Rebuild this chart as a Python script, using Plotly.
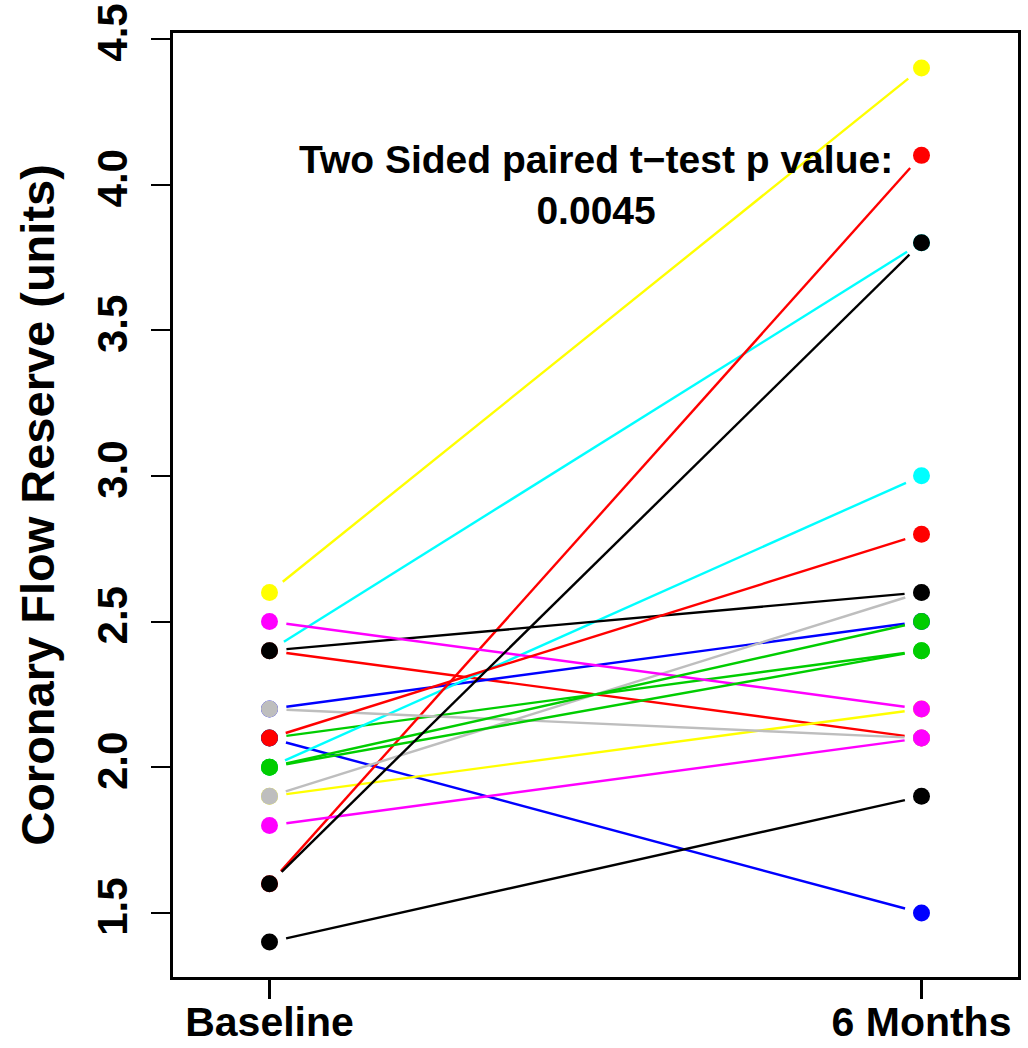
import plotly.graph_objects as go

# ---- data (one row per subject, in drawing order) ----
baseline   = [2.4, 2.4, 2.2, 2.1, 2.1, 2.0, 1.9, 1.6, 2.6, 1.9, 2.4, 2.5, 2.2, 1.8, 2.1, 2.0, 2.0, 1.6, 1.4]
six_months = [3.8, 2.1, 2.5, 2.4, 1.5, 3.0, 2.2, 4.1, 4.4, 2.6, 2.6, 2.2, 2.1, 2.1, 2.8, 2.5, 2.4, 3.8, 1.9]
colors = ["#00FFFF", "#FF0000", "#0000FF", "#00CD00", "#0000FF", "#00FFFF", "#FFFF00", "#FF0000",
          "#FFFF00", "#BEBEBE", "#000000", "#FF00FF", "#BEBEBE", "#FF00FF", "#FF0000", "#00CD00",
          "#00CD00", "#000000", "#000000"]
time_positions = [1, 2]
time_labels = ["Baseline", "6 Months"]
y_ticks = [1.5, 2.0, 2.5, 3.0, 3.5, 4.0, 4.5]
annotation_text = "Two Sided paired t\u2212test p value:<br>0.0045"

# ---- layout geometry (body margin removed in the page) ----
W, H = 1028, 1048
ML, MR, MT, MB = 173, 10, 33, 71
XR = [0.852, 2.148]
YR = [1.28, 4.52]
GAP = 17  # px gap between line end and point (R type="b")

pw = W - ML - MR
ph = H - MT - MB
sx = pw / (XR[1] - XR[0])
sy = ph / (YR[1] - YR[0])

FONT = "Liberation Sans, Arial, sans-serif"

fig = go.Figure()

x0, x1 = time_positions
for b, a, c in zip(baseline, six_months, colors):
    dxp = (x1 - x0) * sx
    dyp = (a - b) * sy
    L = (dxp ** 2 + dyp ** 2) ** 0.5
    f = GAP / L
    xs = [x0 + (x1 - x0) * f, x1 - (x1 - x0) * f]
    ys = [b + (a - b) * f, a - (a - b) * f]
    fig.add_trace(go.Scatter(x=xs, y=ys, mode="lines",
                             line=dict(color=c, width=2.4), hoverinfo="skip",
                             showlegend=False))

fig.add_trace(go.Scatter(x=[x0] * len(baseline), y=baseline, mode="markers",
                         marker=dict(color=colors, size=17, line=dict(width=0)),
                         showlegend=False))
fig.add_trace(go.Scatter(x=[x1] * len(six_months), y=six_months, mode="markers",
                         xaxis="x2", yaxis="y",
                         marker=dict(color=colors, size=17, line=dict(width=0)),
                         showlegend=False))

fig.add_annotation(x=1.5, y=4.0, xref="x", yref="y", text=annotation_text,
                   showarrow=False, align="center",
                   font=dict(family=FONT, size=39, color="black", weight="bold"))

fig.update_layout(
    width=W, height=H,
    margin=dict(l=ML, r=MR, t=MT, b=MB, autoexpand=False),
    paper_bgcolor="white", plot_bgcolor="white",
    showlegend=False,
    # axis carrying the box and tick marks
    xaxis=dict(range=XR, tickmode="array", tickvals=time_positions,
               showticklabels=False,
               showgrid=False, zeroline=False, showline=True, mirror=True,
               linecolor="black", linewidth=3, ticks="outside", ticklen=19,
               tickwidth=3, tickcolor="black", automargin=False),
    # overlaid axis carrying the category labels
    xaxis2=dict(range=XR, overlaying="x", anchor="y", side="bottom",
                tickmode="array", tickvals=time_positions, ticktext=time_labels,
                showgrid=False, zeroline=False, showline=False, ticks="",
                automargin=False, ticklabelstandoff=17,
                tickfont=dict(family=FONT, size=41, color="black", weight="bold")),
    yaxis=dict(range=YR, tickmode="array", tickvals=y_ticks,
               ticktext=[f"{v:.1f}" for v in y_ticks],
               showgrid=False, zeroline=False, showline=True, mirror=True,
               linecolor="black", linewidth=3, ticks="outside", ticklen=19,
               tickwidth=1.5, tickcolor="black", tickangle=-90, automargin=False,
               ticklabelstandoff=7, ticklabeloverflow="allow",
               tickfont=dict(family=FONT, size=42, color="black", weight="bold"),
               title=dict(text="Coronary Flow Reserve (units)", standoff=20,
                          font=dict(family=FONT, size=47, color="black", weight="bold"))),
)

fig.write_html("out.html", config={"displayModeBar": False},
               post_script="document.body.style.margin='0';document.body.style.padding='0';")
